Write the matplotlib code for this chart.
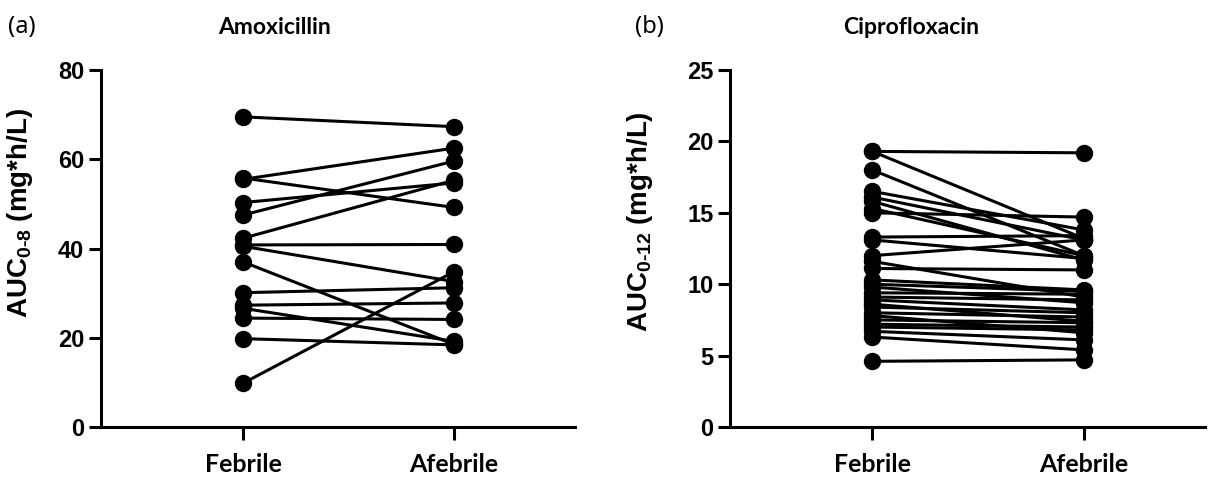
import matplotlib
matplotlib.use("Agg")
import matplotlib.pyplot as plt

# paired AUC values per patient (febrile -> afebrile)
conditions = ["Febrile", "Afebrile"]

amox_febrile = [69.5, 55.5, 55.8, 50.3, 47.5, 42.3, 40.8, 40.5, 37.0, 30.1, 27.3, 26.6, 24.4, 19.8, 9.8]
amox_afebrile = [67.3, 62.5, 49.2, 54.7, 59.6, 55.3, 40.9, 32.6, 18.5, 31.2, 27.8, 19.2, 24.1, 18.4, 34.8]

cipro_febrile = [19.3, 19.3, 18.0, 16.5, 16.1, 15.8, 15.3, 15.0, 13.3, 13.1, 12.0, 11.6, 11.1, 10.3,
                 10.0, 9.8, 9.4, 9.1, 8.9, 8.6, 8.4, 8.0, 7.8, 7.5, 7.2, 7.0, 6.7, 6.3, 4.6]
cipro_afebrile = [19.2, 13.2, 12.0, 13.8, 13.1, 11.7, 12.0, 14.7, 13.4, 11.8, 13.1, 9.1, 11.0, 9.6,
                  9.5, 8.7, 9.3, 8.9, 8.2, 7.4, 8.0, 7.7, 6.6, 7.3, 7.0, 6.8, 6.1, 5.4, 4.7]

plt.rcParams["font.family"] = "Liberation Sans"
plt.rcParams["font.weight"] = "bold"
plt.rcParams["mathtext.fontset"] = "custom"
plt.rcParams["mathtext.rm"] = "Liberation Sans:bold"
plt.rcParams["mathtext.bf"] = "Liberation Sans:bold"
plt.rcParams["mathtext.default"] = "rm"

fig = plt.figure(figsize=(12.2, 4.78), dpi=100)

LW = 2.2


def paired_panel(ax, feb, afeb, ymax, step, ylabel, label_xy):
    for f, a in zip(feb, afeb):
        ax.plot([0, 1], [f, a], color="black", linewidth=LW, marker="o",
                markersize=11.5, clip_on=False, zorder=3)
    ax.set_xlim(-0.673, 1.573)
    ax.set_ylim(0, ymax)
    ax.set_yticks(range(0, ymax + 1, step))
    ax.set_xticks([0, 1])
    ax.set_xticklabels(conditions, fontfamily="Lato", fontweight="bold", fontsize=18)
    ax.spines["top"].set_visible(False)
    ax.spines["right"].set_visible(False)
    ax.spines["left"].set_linewidth(LW)
    ax.spines["bottom"].set_linewidth(LW)
    ax.tick_params(axis="y", length=9, width=LW, pad=3, labelsize=17)
    ax.tick_params(axis="x", length=9, width=LW, pad=10)
    ax.set_ylabel(ylabel, fontweight="bold", fontsize=20)
    ax.yaxis.set_label_coords(*label_xy)


ax1 = fig.add_axes([101 / 1220, 51 / 478, 474 / 1220, 357 / 478])
paired_panel(ax1, amox_febrile, amox_afebrile, 80, 20,
             r"AUC$_{\mathrm{0\text{-}8}}$ (mg*h/L)", (-0.139, 0.60))

ax2 = fig.add_axes([730 / 1220, 51 / 478, 475 / 1220, 357 / 478])
paired_panel(ax2, cipro_febrile, cipro_afebrile, 25, 5,
             r"AUC$_{\mathrm{0\text{-}12}}$ (mg*h/L)", (-0.158, 0.575))

fig.text(275 / 1220, 1 - 27 / 478, "Amoxicillin", ha="center", va="center",
         fontfamily="Lato", fontweight="bold", fontsize=16.5)
fig.text(911 / 1220, 1 - 27 / 478, "Ciprofloxacin", ha="center", va="center",
         fontfamily="Lato", fontweight="bold", fontsize=16.5)
fig.text(8 / 1220, 1 - 27 / 478, "(a)", ha="left", va="center",
         fontfamily="Noto Sans", fontweight="light", fontsize=17)
fig.text(635 / 1220, 1 - 27 / 478, "(b)", ha="left", va="center",
         fontfamily="Noto Sans", fontweight="light", fontsize=17)

fig.savefig("out.png", dpi=100)
